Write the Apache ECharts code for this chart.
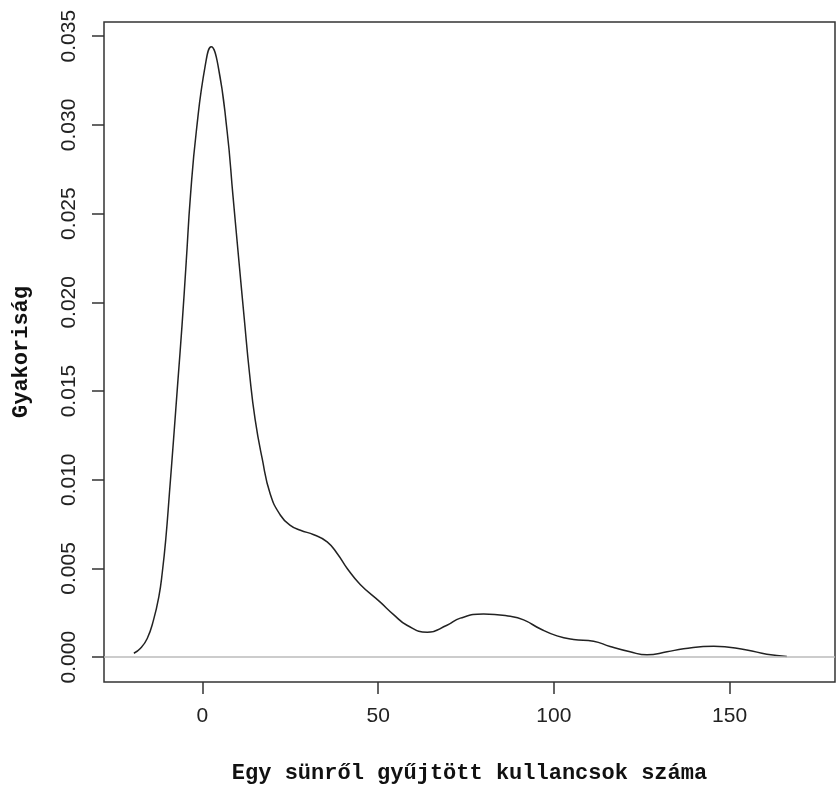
<!DOCTYPE html>
<html>
<head>
<meta charset="utf-8">
<script src="https://cdn.jsdelivr.net/npm/echarts@6/dist/echarts.min.js"></script>
<style>
  html, body { margin: 0; padding: 0; background: #fff; }
  #chart { width: 836px; height: 789px; }
</style>
</head>
<body>
<div id="chart"></div>
<script>
// sűrűségfüggvény pontjai
var densityX = [-19.5, -17.6, -15.7, -13.9, -12.4, -11.4, -10.4, -9.4, -8.2, -7.0, -5.8, -4.6, -3.4, -1.7, 0.85, 2.5, 4.4,
  7.0, 8.7, 10.4, 11.9, 13.4, 15.0, 17.0, 19.3, 22.2, 25.0, 27.9, 31.7, 35.5, 38.5, 41.2, 44.9,
  50.6, 54.4, 58.2, 64, 69.6, 73.4, 80, 87.6, 91.4, 96.1, 100.9, 105.6, 111.3,
  116, 121.7, 126.5, 132.2, 136.9, 145.5, 154.9, 160.6, 166.3];
var densityY = [0.00022, 0.0005, 0.00105, 0.0021, 0.0034, 0.0048, 0.0067, 0.0092, 0.0123, 0.0155, 0.0187, 0.0223, 0.0260, 0.0297, 0.0334, 0.0344, 0.0334,
  0.0297, 0.0260, 0.0223, 0.0191, 0.0160, 0.0134, 0.0112, 0.0092, 0.0080, 0.00743, 0.00715, 0.0069, 0.0065, 0.0058, 0.0050, 0.0041,
  0.0031, 0.0024, 0.0018, 0.0014, 0.0018, 0.0022, 0.00243, 0.0023, 0.0021, 0.0016, 0.0012, 0.0010, 0.0009,
  0.0006, 0.0003, 0.00013, 0.0003, 0.00047, 0.00062, 0.0004, 0.00017, 0.00004];

var xTicks = [0, 50, 100, 150];
var yTicks = [0, 0.005, 0.010, 0.015, 0.020, 0.025, 0.030, 0.035];

var chart = echarts.init(document.getElementById('chart'));

var points = densityX.map(function (x, i) { return [x, densityY[i]]; });

var labelFont = {
  color: '#222',
  fontFamily: 'Liberation Sans',
  fontSize: 21
};

var option = {
  animation: false,
  grid: {
    left: 104,
    top: 22,
    right: 1,
    bottom: 105,
    show: true,
    borderColor: '#333',
    borderWidth: 1.5,
    backgroundColor: '#fff'
  },
  xAxis: {
    type: 'value',
    min: -28,
    max: 180,
    name: 'Egy sünről gyűjtött kullancsok száma',
    nameLocation: 'middle',
    nameGap: 80,
    nameTextStyle: {
      fontFamily: 'Liberation Mono',
      fontWeight: 'bold',
      fontSize: 22,
      color: '#111'
    },
    splitLine: { show: false },
    axisLine: { show: false, onZero: false },
    axisTick: {
      show: true,
      length: 12,
      inside: false,
      customValues: xTicks,
      lineStyle: { color: '#333', width: 1.5 }
    },
    axisLabel: Object.assign({
      margin: 24,
      customValues: xTicks
    }, labelFont)
  },
  yAxis: {
    type: 'value',
    min: -0.0014,
    max: 0.0358,
    name: 'Gyakoriság',
    nameLocation: 'middle',
    nameGap: 72,
    nameRotate: 90,
    nameTextStyle: {
      fontFamily: 'Liberation Mono',
      fontWeight: 'bold',
      fontSize: 22,
      color: '#111'
    },
    splitLine: { show: false },
    axisLine: { show: false, onZero: false },
    axisTick: {
      show: true,
      length: 12,
      customValues: yTicks,
      lineStyle: { color: '#333', width: 1.5 }
    },
    axisLabel: Object.assign({
      rotate: 90,
      margin: 24,
      customValues: yTicks,
      formatter: function (v) { return v.toFixed(3); }
    }, labelFont)
  },
  series: [{
    type: 'line',
    data: points,
    smooth: 0.5,
    showSymbol: false,
    lineStyle: { color: '#222', width: 1.5 },
    markLine: {
      silent: true,
      symbol: 'none',
      label: { show: false },
      lineStyle: { color: '#bbb', width: 1.5, type: 'solid' },
      data: [{ yAxis: 0 }]
    }
  }]
};

chart.setOption(option);
</script>
</body>
</html>
